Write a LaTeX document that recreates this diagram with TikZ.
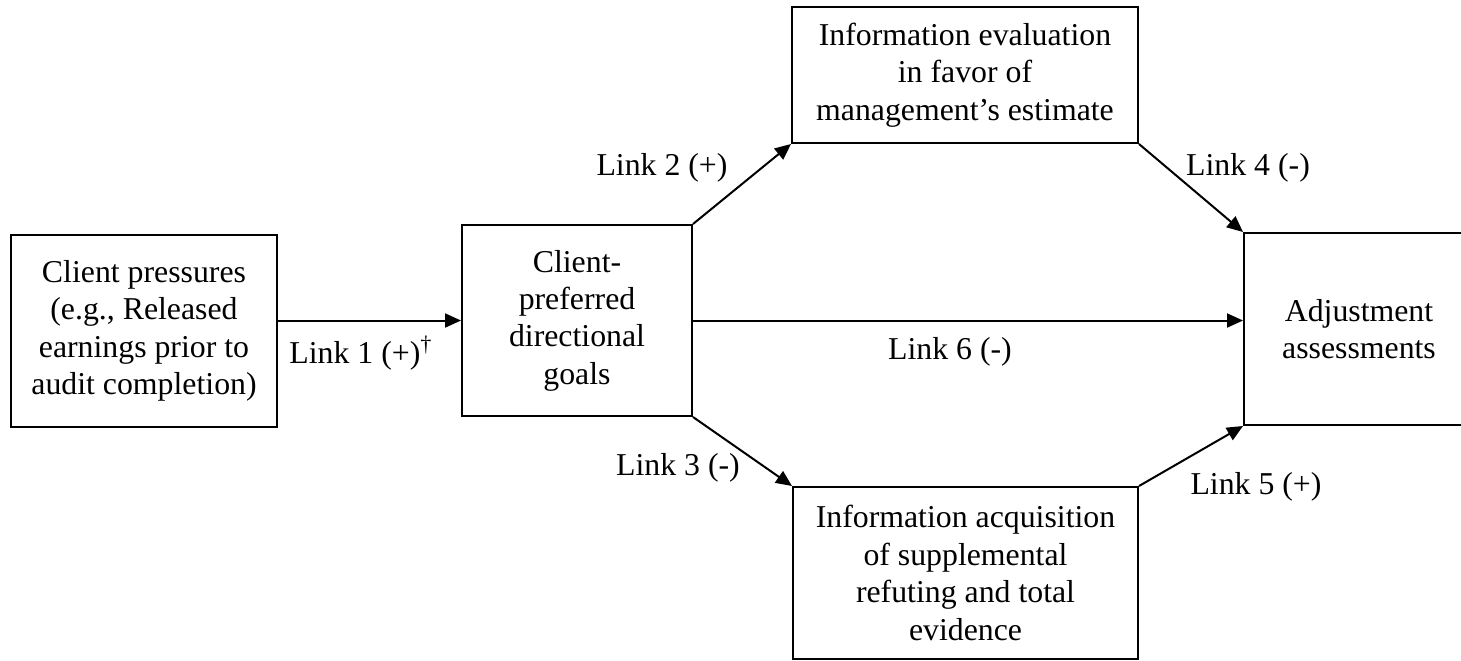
\documentclass[tikz,border=0pt]{standalone}
\usepackage{fontspec}
\setmainfont{Liberation Serif}
\usetikzlibrary{arrows.meta}

\tikzset{
  box/.style={draw, line width=1pt, align=center, inner sep=0pt,
    font=\fontsize{15.9}{18.7}\selectfont},
  link/.style={-{Triangle[length=8pt,width=7pt]}, line width=1pt},
  linklabel/.style={font=\fontsize{15.9}{18.7}\selectfont}
}

\begin{document}
\begin{tikzpicture}[x=0.5pt, y=-0.5pt]
            \useasboundingbox (0,0) rectangle (1461,660);

            % Constructs
            \node[box, minimum width=133pt, minimum height=96pt] (pressure) at (144,331)
                {Client pressures\\(e.g., Released\\earnings prior to\\audit completion)};
            \node[box, minimum width=115pt, minimum height=95.5pt] (goals) at (577,320.5)
                {Client-\\preferred\\directional\\goals};
            \node[box, minimum width=173pt, minimum height=68pt] (evaluation) at (965,75)
                {Information evaluation\\in favor of\\management’s estimate};
            \node[box, minimum width=172.5pt, minimum height=86pt] (acquisition) at (965.5,573)
                {Information acquisition\\of supplemental\\refuting and total\\evidence};
            \node[box, minimum width=115pt, minimum height=96pt] (adjust) at (1359,329)
                {Adjustment\\assessments};

            % Links
            \draw[link] (pressure.east |- goals.west) -- (goals.west);
            \draw[link] (goals.north east) -- (evaluation.south west);
            \draw[link] (goals.south east) -- (acquisition.north west);
            \draw[link] (evaluation.south east) -- (adjust.north west);
            \draw[link] (acquisition.north east) -- (adjust.south west);
            \draw[link] (goals.east) -- (goals.east -| adjust.west);

            % Link labels
            \node[linklabel] (l1) at (361,353) {Link 1 (+)\textsuperscript{\textdagger}};
            \node[linklabel] (l2) at (662,168) {Link 2 (+)};
            \node[linklabel] (l3) at (678,468) {Link 3 (-)};
            \node[linklabel] (l4) at (1248,168) {Link 4 (-)};
            \node[linklabel] (l5) at (1256,487) {Link 5 (+)};
            \node[linklabel] (l6) at (950,352) {Link 6 (-)};
         \end{tikzpicture}
\end{document}
